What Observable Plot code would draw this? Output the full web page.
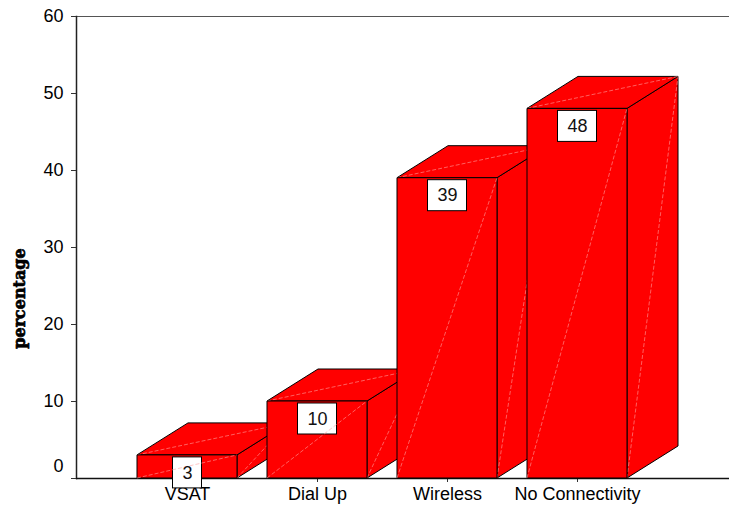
<!DOCTYPE html>
<html>
<head>
<meta charset="utf-8">
<script src="https://cdn.jsdelivr.net/npm/d3@7"></script>
<script src="https://cdn.jsdelivr.net/npm/@observablehq/plot@0.6"></script>
<style>
  html, body { margin: 0; padding: 0; background: #fff; }
  #chart { width: 729px; height: 508px; }
</style>
</head>
<body>
<div id="chart"></div>
<script>
// Internet connectivity of respondents, percentage per connection type
const categories = ["VSAT", "Dial Up", "Wireless", "No Connectivity"];
const percentages = [3, 10, 39, 48];
const yTicks = [0, 10, 20, 30, 40, 50, 60];
const yLabel = "percentage";

const rows = categories.map((category, i) => ({category, value: percentages[i]}));

// Pixel offset of the back face of each extruded bar
const DEPTH_X = 51;
const DEPTH_Y = -32;
const FACE = "#ff0000";
const EDGE = "#000";
const SHEEN = "#ffa0a0";

function poly(g, pts, opts) {
  g.append("path")
    .attr("d", "M" + pts.map(p => p.join(",")).join("L") + "Z")
    .attr("fill", opts.fill)
    .attr("stroke", opts.stroke)
    .attr("stroke-width", opts.width ?? 1)
    .attr("stroke-linejoin", "miter");
}

function sheen(g, a, b) {
  g.append("line")
    .attr("x1", a[0]).attr("y1", a[1])
    .attr("x2", b[0]).attr("y2", b[1])
    .attr("stroke", SHEEN)
    .attr("stroke-width", 0.6)
    .attr("stroke-dasharray", "4,2");
}

// Render each bar as a box: side face, top face, front face, value tag
function drawBoxes(index, scales) {
  const x = scales.x, y = scales.y;
  const bw = typeof x.bandwidth === "function" ? x.bandwidth() : x.bandwidth;
  const g = d3.create("svg:g");
  const yb = y(0);
  for (const i of index) {
    const d = rows[i];
    const x0 = x(d.category), x1 = x0 + bw, yt = y(d.value);
    poly(g, [[x1, yt], [x1, yb], [x1 + DEPTH_X, yb + DEPTH_Y], [x1 + DEPTH_X, yt + DEPTH_Y]], {fill: FACE, stroke: EDGE});
    sheen(g, [x1, yb], [x1 + DEPTH_X, yt + DEPTH_Y]);
    poly(g, [[x0, yt], [x1, yt], [x1 + DEPTH_X, yt + DEPTH_Y], [x0 + DEPTH_X, yt + DEPTH_Y]], {fill: FACE, stroke: EDGE});
    sheen(g, [x0, yt], [x1 + DEPTH_X, yt + DEPTH_Y]);
    poly(g, [[x0, yt], [x1, yt], [x1, yb], [x0, yb]], {fill: FACE, stroke: EDGE});
    const label = String(d.value);
    const w = label.length * 10 + 19;
    g.append("rect")
      .attr("x", x0 + bw / 2 - w / 2)
      .attr("y", yt + 2)
      .attr("width", w)
      .attr("height", 31)
      .attr("fill", "#fff")
      .attr("stroke", EDGE)
      .attr("stroke-width", 1);
    sheen(g, [x0, yb], [x1, yt]);
  }
  return g.node();
}

const chart = Plot.plot({
  width: 729,
  height: 508,
  marginLeft: 76,
  marginRight: 0,
  marginTop: 16,
  marginBottom: 30,
  style: {
    fontFamily: "'Liberation Sans', Arial, sans-serif",
    fontSize: "18px",
    background: "#fff",
    color: "#000"
  },
  x: {domain: categories, paddingInner: 0.228, paddingOuter: 0.6237, align: 0.3777, label: null},
  y: {domain: [0, 60], label: null},
  marks: [
    Plot.ruleY([60], {stroke: "#555", strokeWidth: 1.2}),
    Plot.frame({anchor: "left", stroke: "#222", strokeWidth: 1.5}),
    Plot.axisY(yTicks, {tickSize: 5, tickPadding: 8, stroke: "#333", tickFormat: d => d === 0 ? "" : d, fontSize: 18, label: null}),
    Plot.axisY([0], {tickSize: 0, tickPadding: 13, dy: -12, fontSize: 18, label: null}),
    Plot.axisX(categories, {tickSize: 4, tickPadding: 5, stroke: "#333", fontSize: 18, label: null}),
    Plot.ruleY([0], {stroke: "#111", strokeWidth: 1.5}),
    Plot.barY(rows, {x: "category", y: "value", render: drawBoxes}),
    Plot.text(rows, {x: "category", y: "value", text: d => String(d.value), dy: 17.5, fontSize: 18, fill: "#111"}),
    Plot.text([yLabel], {
      text: d => d,
      frameAnchor: "left",
      textAnchor: "middle",
      rotate: -90,
      dx: -57,
      dy: 51,
      fontFamily: "'DejaVu Serif', serif",
      fontWeight: "bold",
      fontSize: 16,
      fill: "#000",
      stroke: "#000",
      strokeWidth: 0.7
    })
  ]
});

document.getElementById("chart").append(chart);
</script>
</body>
</html>
